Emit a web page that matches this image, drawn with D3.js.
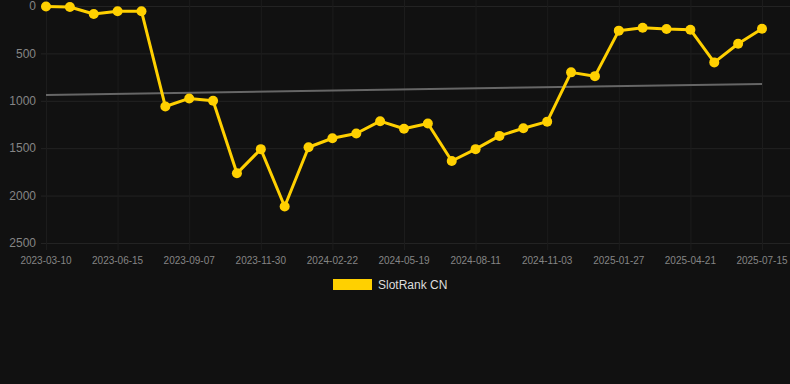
<!DOCTYPE html>
<html>
<head>
<meta charset="utf-8">
<script src="https://cdn.jsdelivr.net/npm/d3@7"></script>
<style>
  html, body { margin: 0; padding: 0; background: #111111; }
  svg { display: block; }
</style>
</head>
<body>
<div id="chart"></div>
<script>
var width = 790;
var height = 384;

// one point every ~4 weeks, labelled every 3rd point
var dates = [
  "2023-03-10", "2023-04-12", "2023-05-15", "2023-06-15", "2023-07-13", "2023-08-10",
  "2023-09-07", "2023-10-05", "2023-11-02", "2023-11-30", "2023-12-28", "2024-01-25",
  "2024-02-22", "2024-03-21", "2024-04-20", "2024-05-19", "2024-06-16", "2024-07-14",
  "2024-08-11", "2024-09-08", "2024-10-06", "2024-11-03", "2024-12-02", "2024-12-30",
  "2025-01-27", "2025-02-24", "2025-03-24", "2025-04-21", "2025-05-19", "2025-06-16",
  "2025-07-15"
];
var ranks = [
  5, 10, 85, 55, 55, 1060,
  975, 1000, 1765, 1510, 2115, 1490,
  1395, 1345, 1215, 1295, 1240, 1635,
  1510, 1370, 1290, 1220, 700, 740,
  260, 230, 243, 250, 595, 398,
  240
];
var yTicks = [0, 500, 1000, 1500, 2000, 2500];
var seriesName = "SlotRank CN";

var lineColor = "#ffd000";
var gridColor = "#232323";
var vGridColor = "#1c1c1c";
var textColor = "#858585";

var svg = d3.select("#chart").append("svg")
  .attr("width", width)
  .attr("height", height);

var x = d3.scalePoint()
  .domain(dates)
  .range([46, 762]);

var y = d3.scaleLinear()
  .domain([0, 2500])
  .range([6, 243]);

// grid
svg.append("g").selectAll("line.h")
  .data(yTicks)
  .enter().append("line")
  .attr("x1", 41)
  .attr("x2", 790)
  .attr("y1", function(d) { return y(d) + 0.5; })
  .attr("y2", function(d) { return y(d) + 0.5; })
  .attr("stroke", gridColor)
  .attr("stroke-width", 1);

var labelled = dates.filter(function(d, i) { return i % 3 === 0; });

svg.append("g").selectAll("line.v")
  .data(labelled)
  .enter().append("line")
  .attr("x1", function(d) { return x(d) + 0.5; })
  .attr("x2", function(d) { return x(d) + 0.5; })
  .attr("y1", 0)
  .attr("y2", 250)
  .attr("stroke", vGridColor)
  .attr("stroke-width", 1);

// y labels
svg.append("g").selectAll("text")
  .data(yTicks)
  .enter().append("text")
  .attr("x", 36)
  .attr("y", function(d) { return y(d); })
  .attr("dy", "0.35em")
  .attr("text-anchor", "end")
  .attr("fill", textColor)
  .style("font-family", "Liberation Sans, Arial, sans-serif")
  .style("font-size", "12px")
  .text(function(d) { return d; });

// x labels
svg.append("g").selectAll("text")
  .data(labelled)
  .enter().append("text")
  .attr("x", function(d) { return x(d); })
  .attr("y", 263.5)
  .attr("text-anchor", "middle")
  .attr("fill", textColor)
  .style("font-family", "Liberation Sans, Arial, sans-serif")
  .style("font-size", "10px")
  .text(function(d) { return d; });

// trend line (least squares on the series)
var n = ranks.length;
var meanI = (n - 1) / 2;
var meanV = d3.mean(ranks);
var num = 0, den = 0;
for (var i = 0; i < n; i++) {
  num += (i - meanI) * (ranks[i] - meanV);
  den += (i - meanI) * (i - meanI);
}
var slope = num / den;
var trend = [0, n - 1].map(function(i) { return [dates[i], meanV + slope * (i - meanI)]; });

svg.append("path")
  .datum(trend)
  .attr("fill", "none")
  .attr("stroke", "#666666")
  .attr("stroke-width", 2)
  .attr("d", d3.line()
    .x(function(d) { return x(d[0]); })
    .y(function(d) { return y(d[1]); }));

// series
var pts = dates.map(function(d, i) { return [d, ranks[i]]; });

svg.append("path")
  .datum(pts)
  .attr("fill", "none")
  .attr("stroke", lineColor)
  .attr("stroke-width", 3)
  .attr("stroke-linejoin", "round")
  .attr("d", d3.line()
    .x(function(d) { return x(d[0]); })
    .y(function(d) { return y(d[1]); }));

svg.append("g").selectAll("circle")
  .data(pts)
  .enter().append("circle")
  .attr("cx", function(d) { return x(d[0]); })
  .attr("cy", function(d) { return y(d[1]); })
  .attr("r", 5)
  .attr("fill", lineColor);

// legend
var legend = svg.append("g");
legend.append("rect")
  .attr("x", 333)
  .attr("y", 279)
  .attr("width", 39)
  .attr("height", 11)
  .attr("fill", lineColor);
legend.append("text")
  .attr("x", 378)
  .attr("y", 285)
  .attr("dy", "0.35em")
  .attr("fill", "#dddddd")
  .style("font-family", "Liberation Sans, Arial, sans-serif")
  .style("font-size", "12px")
  .text(seriesName);
</script>
</body>
</html>
